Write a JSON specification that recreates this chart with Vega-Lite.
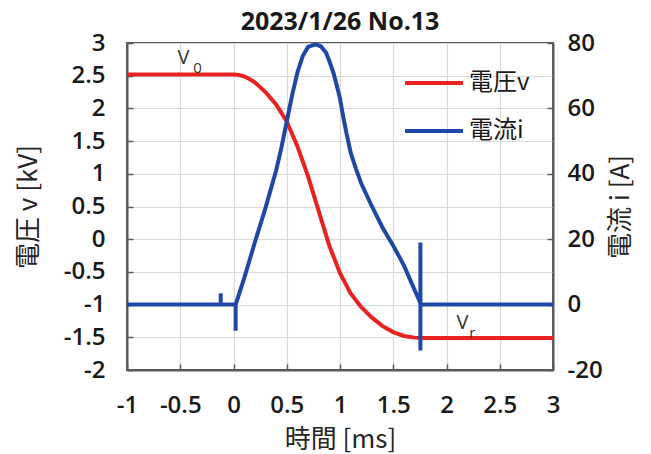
{
  "$schema": "https://vega.github.io/schema/vega-lite/v6.json",
  "autosize": {"type": "none"},
  "padding": {"left": 127, "top": 43, "right": 98, "bottom": 84},
  "width": 426,
  "height": 327,
  "background": "white",
  "title": {"text": "2023/1/26 No.13", "fontSize": 25, "fontWeight": "bold", "font": "Open Sans", "color": "#1a1a1a", "anchor": "middle", "offset": -4},
  "datasets": {
    "voltage": [
      {"t": -1, "v": 2.52}, {"t": 0, "v": 2.52}, {"t": 0.05, "v": 2.51}, {"t": 0.1, "v": 2.49},
      {"t": 0.15, "v": 2.45}, {"t": 0.2, "v": 2.4}, {"t": 0.3, "v": 2.25}, {"t": 0.4, "v": 2.06},
      {"t": 0.5, "v": 1.8}, {"t": 0.6, "v": 1.42}, {"t": 0.7, "v": 0.96}, {"t": 0.8, "v": 0.43},
      {"t": 0.9, "v": -0.1}, {"t": 1.0, "v": -0.52}, {"t": 1.1, "v": -0.83}, {"t": 1.2, "v": -1.04},
      {"t": 1.3, "v": -1.2}, {"t": 1.4, "v": -1.33}, {"t": 1.5, "v": -1.42}, {"t": 1.6, "v": -1.48},
      {"t": 1.7, "v": -1.505}, {"t": 1.8, "v": -1.51}, {"t": 3, "v": -1.51}
    ],
    "current": [
      {"k": 0, "t": -1, "i": 0}, {"k": 1, "t": -0.12, "i": 0}, {"k": 2, "t": -0.12, "i": 3.5},
      {"k": 3, "t": -0.12, "i": 0}, {"k": 4, "t": 0.02, "i": 0}, {"k": 5, "t": 0.02, "i": -8},
      {"k": 6, "t": 0.02, "i": 0}, {"k": 7, "t": 0.1, "i": 8}, {"k": 8, "t": 0.2, "i": 19},
      {"k": 9, "t": 0.3, "i": 29.5}, {"k": 10, "t": 0.4, "i": 41}, {"k": 11, "t": 0.45, "i": 48},
      {"k": 12, "t": 0.5, "i": 56}, {"k": 13, "t": 0.55, "i": 64}, {"k": 14, "t": 0.6, "i": 71},
      {"k": 15, "t": 0.65, "i": 76}, {"k": 16, "t": 0.7, "i": 78.8}, {"k": 17, "t": 0.77, "i": 79.6},
      {"k": 18, "t": 0.82, "i": 79}, {"k": 19, "t": 0.87, "i": 77}, {"k": 20, "t": 0.9, "i": 74.5},
      {"k": 21, "t": 0.94, "i": 70.7}, {"k": 22, "t": 0.97, "i": 67}, {"k": 23, "t": 1.0, "i": 63},
      {"k": 24, "t": 1.03, "i": 57.5}, {"k": 25, "t": 1.06, "i": 52.5}, {"k": 26, "t": 1.1, "i": 46.5},
      {"k": 27, "t": 1.15, "i": 41.5}, {"k": 28, "t": 1.2, "i": 37}, {"k": 29, "t": 1.3, "i": 30},
      {"k": 30, "t": 1.4, "i": 23.5}, {"k": 31, "t": 1.5, "i": 18}, {"k": 32, "t": 1.6, "i": 12},
      {"k": 33, "t": 1.7, "i": 4.5}, {"k": 34, "t": 1.755, "i": 0.5}, {"k": 35, "t": 1.755, "i": 19},
      {"k": 36, "t": 1.755, "i": -14}, {"k": 37, "t": 1.755, "i": 0}, {"k": 38, "t": 3, "i": 0}
    ],
    "notes": [
      {"t": -0.47, "v": 2.77, "label": "V", "size": 20},
      {"t": -0.337, "v": 2.62, "label": "0", "size": 15},
      {"t": 2.149, "v": -1.28, "label": "V", "size": 20},
      {"t": 2.242, "v": -1.44, "label": "r", "size": 15}
    ]
  },
  "layer": [
    {
      "layer": [
        {
          "data": {"name": "voltage"},
          "mark": {"type": "line", "strokeWidth": 4, "clip": true},
          "encoding": {
            "x": {"field": "t", "type": "quantitative", "scale": {"domain": [-1, 3], "nice": false, "zero": false},
              "axis": {"values": [-1, -0.5, 0, 0.5, 1, 1.5, 2, 2.5, 3], "labelExpr": "'' + datum.value", "title": "時間 [ms]", "titleY": 69, "titleBaseline": "middle", "titleX": 213, "labelPadding": 29}},
            "y": {"field": "v", "type": "quantitative", "scale": {"domain": [-2, 3], "nice": false, "zero": false},
              "axis": {"values": [-2, -1.5, -1, -0.5, 0, 0.5, 1, 1.5, 2, 2.5, 3], "labelExpr": "'' + datum.value", "title": "電圧 v [kV]", "titleX": -99, "titleY": 163.5, "titleAngle": -90, "titleBaseline": "middle", "labelPadding": 28}},
            "color": {"datum": "電圧v", "type": "nominal", "scale": {"domain": ["電圧v", "電流i"], "range": ["#E8231F", "#1F48A6"]},
              "legend": {"orient": "none", "legendX": 276, "legendY": 9, "title": null, "symbolType": "stroke", "symbolSize": 3364, "symbolStrokeWidth": 4, "labelFontSize": 24, "labelFont": "Noto Sans CJK JP", "labelColor": "#1a1a1a", "rowPadding": 5, "labelOffset": 4}}
          }
        },
        {
          "data": {"name": "notes"},
          "mark": {"type": "text", "font": "Open Sans", "color": "#333333"},
          "encoding": {
            "x": {"field": "t", "type": "quantitative",
              "axis": {"values": [-1, -0.5, 0, 0.5, 1, 1.5, 2, 2.5, 3], "labelExpr": "'' + datum.value", "title": "時間 [ms]", "titleY": 69, "titleBaseline": "middle", "titleX": 213, "labelPadding": 29}},
            "y": {"field": "v", "type": "quantitative",
              "axis": {"values": [-2, -1.5, -1, -0.5, 0, 0.5, 1, 1.5, 2, 2.5, 3], "labelExpr": "'' + datum.value", "title": "電圧 v [kV]", "titleX": -99, "titleY": 163.5, "titleAngle": -90, "titleBaseline": "middle", "labelPadding": 28}},
            "text": {"field": "label"},
            "size": {"field": "size", "type": "quantitative", "scale": null, "legend": null}
          }
        }
      ]
    },
    {
      "data": {"name": "current"},
      "mark": {"type": "line", "strokeWidth": 4, "clip": true},
      "encoding": {
        "x": {"field": "t", "type": "quantitative"},
        "y": {"field": "i", "type": "quantitative", "scale": {"domain": [-20, 80], "nice": false, "zero": false},
          "axis": {"orient": "right", "grid": false, "values": [-20, 0, 20, 40, 60, 80], "labelExpr": "'' + datum.value", "title": "電流 i [A]", "titleX": 67, "titleY": 163.5, "titleAngle": -90, "titleBaseline": "middle", "labelPadding": 20}},
        "order": {"field": "k", "type": "quantitative"},
        "color": {"datum": "電流i", "type": "nominal"}
      }
    }
  ],
  "resolve": {"scale": {"y": "independent"}},
  "config": {
    "view": {"stroke": "#595959", "strokeWidth": 2},
    "axis": {
      "domainColor": "#595959", "domainWidth": 2, "tickColor": "#595959", "tickWidth": 1.5, "tickSize": -6,
      "gridColor": "#d9d9d9", "gridWidth": 1.2, "labelOverlap": false, "labelFlush": false,
      "labelFont": "Open Sans", "labelFontSize": 24, "labelFontWeight": 600, "labelColor": "#1a1a1a",
      "titleFont": "Noto Sans CJK JP", "titleFontSize": 26, "titleFontWeight": "normal", "titleColor": "#262626"
    }
  }
}
